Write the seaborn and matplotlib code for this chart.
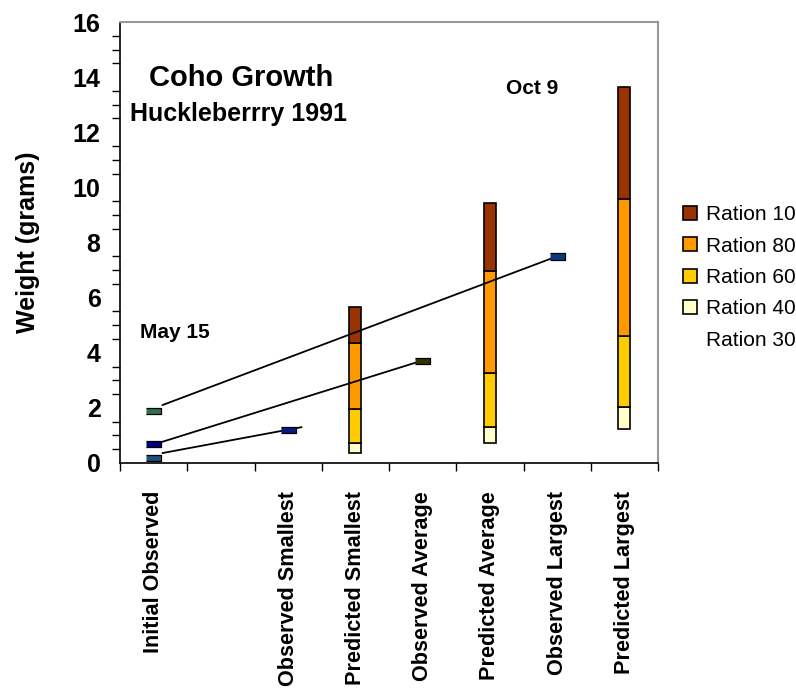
import seaborn as sns
import matplotlib.pyplot as plt
from matplotlib.patches import Patch
from matplotlib.ticker import MultipleLocator, FixedLocator

# categories along the x axis (second slot is an empty gap)
categories = ["Initial Observed", "", "Observed Smallest", "Predicted Smallest",
              "Observed Average", "Predicted Average", "Observed Largest", "Predicted Largest"]

# stacked predicted weights (grams), bottom to top
predicted = ["Predicted Smallest", "Predicted Average", "Predicted Largest"]
ration30 = [0.35, 0.71, 1.22]
ration40 = [0.36, 0.59, 0.80]
ration60 = [1.25, 1.95, 2.60]
ration80 = [2.38, 3.72, 4.95]
ration10 = [1.33, 2.45, 4.06]

# observed weights (small markers)
obs_names = ["init_large", "init_avg", "init_small", "obs_small", "obs_avg", "obs_large"]
obs_cats = ["Initial Observed", "Initial Observed", "Initial Observed",
            "Observed Smallest", "Observed Average", "Observed Largest"]
obs_weight = [1.89, 0.69, 0.18, 1.20, 3.70, 7.49]
obs_colors = ["#2f6f4f", "#000080", "#1f4f7f", "#0a1a80", "#333300", "#0d3a7a"]

# growth lines from May 15 to Oct 9
line_to = ["Observed Largest", "Observed Average", "Observed Smallest"]
line_from_y = [2.10, 0.77, 0.36]
line_to_y = [7.50, 3.72, 1.30]
line_overshoot = [0.0, 0.0, 0.2]

ration_labels = ["Ration 10", "Ration 80", "Ration 60", "Ration 40", "Ration 30"]
ration_colors = ["#993300", "#FF9900", "#FFCC00", "#FFFFCC", "none"]

sns.set_style("white")
plt.rcParams['font.family'] = ['Liberation Sans', 'DejaVu Sans']
plt.rcParams.update({"text.color": "black", "axes.labelcolor": "black",
                     "xtick.color": "black", "ytick.color": "black"})

fig = plt.figure(figsize=(7.96, 6.94), dpi=100)
ax = fig.add_axes([120 / 796, 1 - 463 / 694, 538 / 796, 441 / 694])

segments = [ration30, ration40, ration60, ration80, ration10]
seg_colors = ["none", "#FFFFCC", "#FFCC00", "#FF9900", "#993300"]
bottom = [0.0, 0.0, 0.0]
for vals, col in zip(segments, seg_colors):
    if col == "none":
        sns.barplot(x=predicted, y=vals, order=categories, width=0.18, ax=ax, color="white",
                    fill=False, linewidth=0, errorbar=None, bottom=bottom)
    else:
        sns.barplot(x=predicted, y=vals, order=categories, width=0.18, ax=ax,
                    color=col, saturation=1, edgecolor="black", linewidth=1.2,
                    errorbar=None, bottom=bottom)
    bottom = [b + v for b, v in zip(bottom, vals)]

# growth lines
for tgt, y0, y1, extra in zip(line_to, line_from_y, line_to_y, line_overshoot):
    x0 = categories.index("Initial Observed") + 0.13
    x1 = categories.index(tgt) + extra
    sns.lineplot(x=[x0, x1], y=[y0, y1], color="black", linewidth=1.3, ax=ax, zorder=4)

obs_x = [categories.index(c) for c in obs_cats]
rect = [(-1, -0.45), (1, -0.45), (1, 0.45), (-1, 0.45)]
sns.scatterplot(x=obs_x, y=obs_weight, hue=obs_names, palette=obs_colors, marker=rect,
                s=115, edgecolor="black", linewidth=0.9, legend=False, ax=ax, zorder=5)

ax.set_xlim(-0.5, len(categories) - 0.5)
ax.set_ylim(0, 16)
ax.yaxis.set_major_locator(MultipleLocator(2))
ax.yaxis.set_minor_locator(MultipleLocator(0.5))
ax.tick_params(axis="y", which="major", direction="out", length=8, width=1,
               labelsize=18, pad=6)
ax.tick_params(axis="y", which="minor", direction="out", length=6, width=1, left=True)
for lab in ax.get_yticklabels():
    lab.set_fontweight("bold")

ax.xaxis.set_major_locator(FixedLocator(range(len(categories))))
ax.set_xticklabels(categories, rotation=90, fontsize=15.6, fontweight="bold")
ax.xaxis.set_minor_locator(FixedLocator([i - 0.5 for i in range(len(categories) + 1)]))
ax.tick_params(axis="x", which="major", length=0, pad=20)
ax.tick_params(axis="x", which="minor", direction="out", length=6, width=1, bottom=True)
ax.set_xlabel("")
ax.set_ylabel("Weight (grams)", fontsize=18, fontweight="bold")
ax.yaxis.set_label_coords(-0.148, 0.5)

for side in ["left", "bottom"]:
    ax.spines[side].set_color("black")
    ax.spines[side].set_linewidth(1.2)
for side in ["top", "right"]:
    ax.spines[side].set_visible(True)
    ax.spines[side].set_color("#999999")
    ax.spines[side].set_linewidth(1.5)

ax.text(0.225, 0.873, "Coho Growth", transform=ax.transAxes, ha="center", va="center",
        fontsize=21, fontweight="bold")
ax.text(0.221, 0.791, "Huckleberrry 1991", transform=ax.transAxes, ha="center", va="center",
        fontsize=18, fontweight="bold")
ax.text(0.766, 0.850, "Oct 9", transform=ax.transAxes, ha="center", va="center",
        fontsize=15, fontweight="bold")
ax.text(0.102, 0.295, "May 15", transform=ax.transAxes, ha="center", va="center",
        fontsize=15, fontweight="bold")

handles = [Patch(facecolor=c, edgecolor=("black" if c != "none" else "none"), linewidth=1.2)
           for c in ration_colors]
fig.legend(handles, ration_labels, loc="upper left", bbox_to_anchor=(683 / 796, 1 - 205 / 694),
           frameon=False, fontsize=15, handlelength=0.65, handleheight=0.65,
           handletextpad=0.45, labelspacing=0.60, borderpad=0, borderaxespad=0)

fig.savefig("out.png", dpi=100)
